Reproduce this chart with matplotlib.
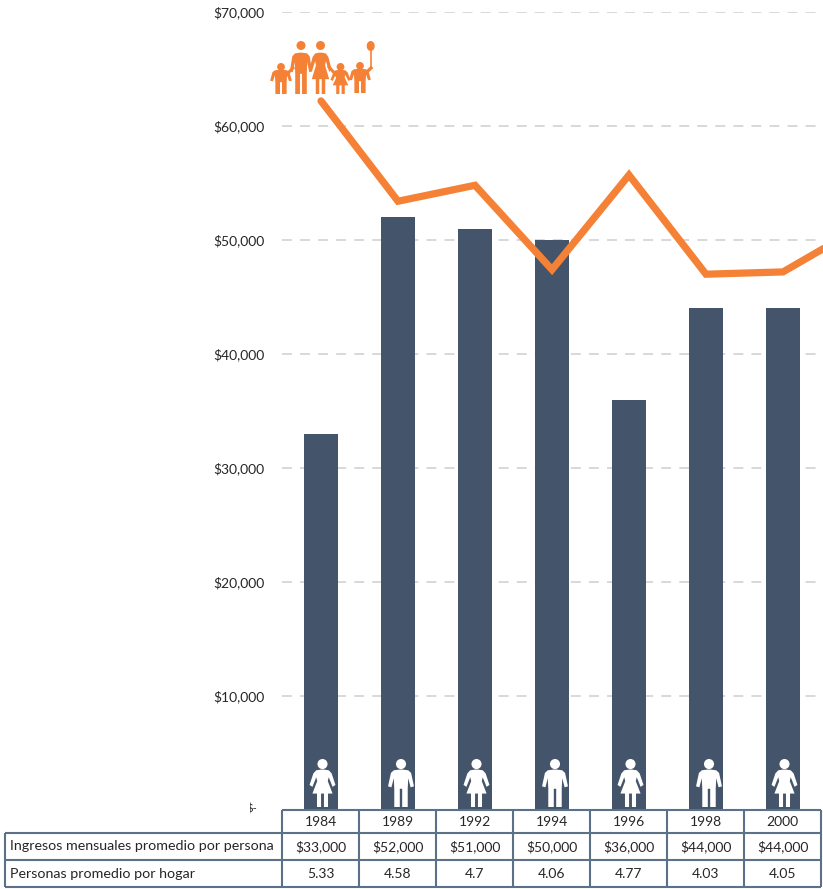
import matplotlib
matplotlib.use("Agg")
import matplotlib.pyplot as plt
from matplotlib.patches import Circle, Ellipse, Polygon, Rectangle

# Datos
years = ['1984', '1989', '1992', '1994', '1996', '1998', '2000']
ingresos = [33000, 52000, 51000, 50000, 36000, 44000, 44000]
personas = ['5.33', '4.58', '4.7', '4.06', '4.77', '4.03', '4.05']
linea = [62200, 53400, 54800, 47400, 55700, 47000, 47200, 51100]
generos = ['f', 'm', 'f', 'm', 'f', 'm', 'f']
y_ticks = [10000, 20000, 30000, 40000, 50000, 60000, 70000]

azul = '#44546a'
naranja = '#f58136'
borde = '#5b7089'
texto = '#262626'
plt.rcParams['font.family'] = ['Lato', 'DejaVu Sans']

W, H = 823, 889
fig = plt.figure(figsize=(W / 100, H / 100), dpi=100)

# Grafico principal
ax = fig.add_axes([282 / W, 1 - 810 / H, (W - 282) / W, 798 / H])
ax.set_xlim(-39 / 77, (W - 321) / 77)
ax.set_ylim(0, 70000)
ax.patch.set_visible(False)
for s in ax.spines.values():
    s.set_visible(False)
ax.set_xticks([])
ax.set_yticks(y_ticks)
ax.set_yticklabels([f'${v:,}' for v in y_ticks], fontsize=10, color=texto)
ax.tick_params(axis='y', length=0, pad=12.6)
ax.hlines(y_ticks, -39 / 77, 6.49, color='#d6d6d6', linewidth=1.3,
          linestyles=(0, (5.5, 4.5)), zorder=1)
ax.bar(range(len(years)), ingresos, width=0.45, color=azul, zorder=2)
ax.plot(range(len(linea)), linea, color=naranja, linewidth=5.2,
        solid_capstyle='round', solid_joinstyle='miter', zorder=3)

# Capa en pixeles para tabla e iconos
ov = fig.add_axes([0, 0, 1, 1])
ov.set_xlim(0, W)
ov.set_ylim(H, 0)
ov.axis('off')


def person(cx, top, h, female, color, ancho=1.0, cabeza=0.105, z=4):
    ov.add_patch(Circle((cx, top + cabeza * h), cabeza * h, color=color, lw=0, zorder=z))
    if female:
        half = [(0.03, 0.22), (0.13, 0.235), (0.19, 0.30), (0.27, 0.54), (0.21, 0.58),
                (0.13, 0.38), (0.11, 0.46), (0.21, 0.72), (0.115, 0.72), (0.115, 1.0),
                (0.03, 1.0), (0.03, 0.72)]
    else:
        half = [(0.03, 0.22), (0.15, 0.235), (0.21, 0.29), (0.27, 0.57), (0.20, 0.59),
                (0.15, 0.40), (0.14, 0.62), (0.14, 1.0), (0.025, 1.0), (0.025, 0.62)]
    right = [(cx + x * h * ancho, top + y * h) for x, y in half]
    left = [(cx - x * h * ancho, top + y * h) for x, y in reversed(half)]
    ov.add_patch(Polygon(right + left, closed=True, color=color, lw=0, zorder=z))


# Iconos blancos sobre las barras
for i, g in enumerate(generos):
    cx = ov.transData.inverted().transform(ax.transData.transform((i, 0)))[0]
    person(cx + (1.5 if g == 'f' else 3), 759, 48, g == 'f', 'white')

# Familia naranja
person(281, 63, 31, False, naranja, ancho=1.3, cabeza=0.125)
person(301, 41, 53, False, naranja, ancho=0.78, cabeza=0.085)
person(320.5, 41, 53, True, naranja, ancho=0.78, cabeza=0.085)
person(340.5, 63, 31, True, naranja, ancho=1.2, cabeza=0.125)
person(360, 62, 31, False, naranja, ancho=1.3, cabeza=0.125)
ov.plot([285, 293], [76, 68], color=naranja, lw=2.2, zorder=4)
ov.plot([329, 337], [67, 76], color=naranja, lw=2.2, zorder=4)
ov.plot([363, 371], [76, 68], color=naranja, lw=2.4, zorder=4)
ov.plot([371, 371], [68, 50], color=naranja, lw=1.2, zorder=4)
ov.add_patch(Ellipse((370.7, 46), 8, 10, color=naranja, lw=0, zorder=4))

# Resto de la etiqueta "$-" tapada por la tabla original
ov.text(257, 809, '$-', fontsize=8, color=texto, ha='right', va='center', zorder=1)
ov.add_patch(Rectangle((230, 800), 20, 18, color='white', lw=0, zorder=2))

# Tabla
col_x = [282 + 77 * i for i in range(len(years) + 1)]
rows = [810, 833, 860, 887]
lw_t = 1.5
ov.hlines(rows[0], col_x[0], col_x[-1], color=borde, lw=lw_t)
ov.hlines(rows[1:], 5, col_x[-1], color=borde, lw=lw_t)
ov.vlines(5, rows[1], rows[3], color=borde, lw=lw_t)
ov.vlines(col_x, rows[0], rows[3], color=borde, lw=lw_t)
ov.text(10, 846.5, 'Ingresos mensuales promedio por persona', fontsize=10.3, color=texto,
        va='center')
ov.text(10, 873.5, 'Personas promedio por hogar', fontsize=10.3, color=texto, va='center')
for i in range(len(years)):
    cx = col_x[i] + 38.5
    ov.text(cx, 821.5, years[i], fontsize=10, color=texto, ha='center', va='center')
    ov.text(cx, 846.5, f'${ingresos[i]:,}', fontsize=10, color=texto, ha='center', va='center')
    ov.text(cx, 873.5, personas[i], fontsize=10, color=texto, ha='center', va='center')

fig.savefig('out.png', dpi=100)
